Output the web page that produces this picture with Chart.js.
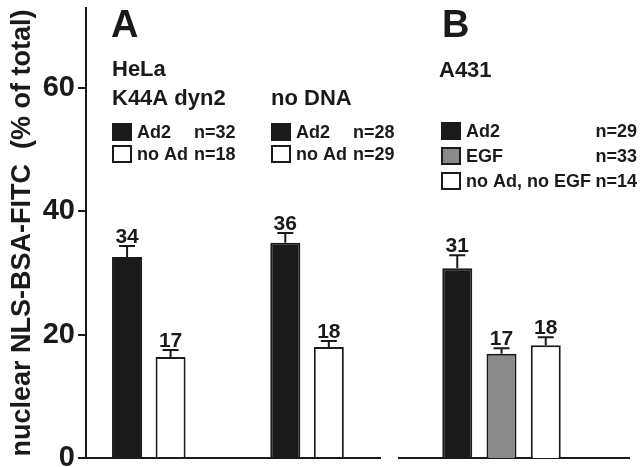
<!DOCTYPE html>
<html>
<head>
<meta charset="utf-8">
<script src="https://cdn.jsdelivr.net/npm/chart.js@4"></script>
<style>
  html, body { margin: 0; padding: 0; background: #fff; overflow: hidden; }
  #wrap { position: relative; width: 640px; height: 467px; }
  #chartA { position: absolute; left: 0; top: 0; }
  #chartB { position: absolute; left: 390px; top: 0; }
</style>
</head>
<body>
<div id="wrap">
  <canvas id="chartA" width="400" height="467"></canvas>
  <canvas id="chartB" width="250" height="467"></canvas>
</div>
<script>
// y axis
const yTicks = [0, 20, 40, 60];
const yMax = 73;
const yTitle = 'nuclear NLS-BSA-FITC  (% of total)';

// panel A (HeLa)
const cellA = 'HeLa';
const groupsA = ['K44A dyn2', 'no DNA'];
const ad2A = [32.6, 34.9];
const ad2ErrA = [1.8, 1.6];
const ad2LabelsA = ['34', '36'];
const noAdA = [16.4, 18.0];
const noAdErrA = [1.1, 1.0];
const noAdLabelsA = ['17', '18'];
const nAd2A = [32, 28];
const nNoAdA = [18, 29];

// panel B (A431)
const cellB = 'A431';
const ad2B = [30.8];
const ad2ErrB = [2.1];
const ad2LabelsB = ['31'];
const egfB = [16.9];
const egfErrB = [0.9];
const egfLabelsB = ['17'];
const noneB = [18.3];
const noneErrB = [1.3];
const noneLabelsB = ['18'];
const nB = [29, 33, 14];

const INK = '#1a1a1a';
const FONT = "'Liberation Sans', Arial, Helvetica, sans-serif";

function points(values) {
    return values.map((v, i) => ({ x: i, y: v }));
}

function bold(size) {
    return 'bold ' + size + 'px ' + FONT;
}

// error bars + numbers over the bars
const errorBars = {
    id: 'errorBars',
    afterDatasetsDraw(chart) {
        const ctx = chart.ctx;
        const y = chart.scales.y;
        ctx.save();
        ctx.strokeStyle = INK;
        ctx.fillStyle = INK;
        ctx.lineWidth = 2;
        ctx.font = bold(21);
        ctx.textAlign = 'center';
        ctx.textBaseline = 'alphabetic';
        chart.data.datasets.forEach((ds, di) => {
            chart.getDatasetMeta(di).data.forEach((bar, i) => {
                const top = y.getPixelForValue(ds.data[i].y + ds.errors[i]);
                ctx.beginPath();
                ctx.moveTo(bar.x, bar.y);
                ctx.lineTo(bar.x, top);
                ctx.moveTo(bar.x - 8, top);
                ctx.lineTo(bar.x + 8, top);
                ctx.stroke();
                ctx.fillText(ds.valueLabels[i], bar.x, top - 3);
            });
        });
        ctx.restore();
    }
};

function drawBox(ctx, ds, x, top, h) {
    ctx.fillStyle = ds.backgroundColor;
    ctx.fillRect(x, top, 20, h);
    ctx.strokeStyle = INK;
    ctx.lineWidth = 2;
    ctx.strokeRect(x + 1, top + 1, 18, h - 2);
}

// headers and hand-laid legends
const panelText = {
    id: 'panelText',
    afterDraw(chart, args, opts) {
        const ctx = chart.ctx;
        const dx = opts.offset;
        ctx.save();
        ctx.fillStyle = INK;
        ctx.textBaseline = 'alphabetic';
        ctx.textAlign = 'left';
        ctx.font = bold(38);
        ctx.fillText(opts.letter, opts.letterX - dx, 37);
        ctx.font = bold(22);
        opts.headers.forEach(h => ctx.fillText(h.text, h.x - dx, h.y));
        opts.rows.forEach(r => {
            const ds = chart.data.datasets[r.ds];
            drawBox(ctx, ds, r.x - dx, r.top, r.h);
            ctx.fillStyle = INK;
            ctx.font = bold(18);
            ctx.textAlign = 'left';
            ctx.fillText(ds.label, r.x + 25 - dx, r.top + 15);
            ctx.textAlign = r.nAlign || 'left';
            ctx.fillText('n=' + r.n, r.nX - dx, r.top + 15);
        });
        ctx.restore();
    }
};

function yScale(show) {
    return {
        min: 0,
        max: yMax,
        display: show,
        afterBuildTicks: s => { s.ticks = yTicks.map(v => ({ value: v })); },
        afterFit: s => { if (show) { s.width = 86; } s.paddingTop = 0; s.paddingBottom = 0; },
        border: { display: true, color: INK, width: 2 },
        grid: { drawOnChartArea: false, drawTicks: true, tickLength: 8, color: INK, lineWidth: 2 },
        ticks: { color: INK, font: { family: FONT, size: 29, weight: 'bold' }, padding: 3 },
        title: {
            display: show,
            text: yTitle,
            color: INK,
            font: { family: FONT, size: 27, weight: 'bold' },
            padding: { top: 6, bottom: 0 }
        }
    };
}

function xScale(min, max, groups) {
    return {
        type: 'linear',
        min: min,
        max: max,
        offset: false,
        afterBuildTicks: s => { s.ticks = groups.map((g, i) => ({ value: i })); },
        border: { display: true, color: INK, width: 2 },
        grid: { display: false, drawTicks: false, offset: false },
        ticks: { display: false }
    };
}

const common = {
    responsive: false,
    animation: false,
    events: [],
    plugins: { legend: { display: false }, tooltip: { enabled: false } }
};

new Chart(document.getElementById('chartA'), {
    type: 'bar',
    data: {
        datasets: [
            { label: 'Ad2', data: points(ad2A), errors: ad2ErrA, valueLabels: ad2LabelsA,
              backgroundColor: INK, borderColor: INK, borderWidth: 2 },
            { label: 'no Ad', data: points(noAdA), errors: noAdErrA, valueLabels: noAdLabelsA,
              backgroundColor: '#ffffff', borderColor: INK, borderWidth: 2 }
        ]
    },
    options: Object.assign({}, common, {
        categoryPercentage: 0.55,
        barPercentage: 0.69,
        layout: { padding: { left: 0, right: 20, top: 8, bottom: 9 } },
        scales: { x: xScale(-0.397, 1.461, groupsA), y: yScale(true) },
        plugins: Object.assign({}, common.plugins, {
            panelText: {
                offset: 0,
                letter: 'A',
                letterX: 111,
                headers: [
                    { text: cellA, x: 112, y: 76 },
                    { text: groupsA[0], x: 112, y: 105 },
                    { text: groupsA[1], x: 271, y: 105 }
                ],
                rows: [
                    { ds: 0, x: 112, top: 123, h: 18, n: nAd2A[0], nX: 194 },
                    { ds: 1, x: 112, top: 145, h: 18, n: nNoAdA[0], nX: 194 },
                    { ds: 0, x: 271, top: 123, h: 18, n: nAd2A[1], nX: 353 },
                    { ds: 1, x: 271, top: 145, h: 18, n: nNoAdA[1], nX: 353 }
                ]
            }
        })
    }),
    plugins: [errorBars, panelText]
});

new Chart(document.getElementById('chartB'), {
    type: 'bar',
    data: {
        datasets: [
            { label: 'Ad2', data: points(ad2B), errors: ad2ErrB, valueLabels: ad2LabelsB,
              backgroundColor: INK, borderColor: INK, borderWidth: 2 },
            { label: 'EGF', data: points(egfB), errors: egfErrB, valueLabels: egfLabelsB,
              backgroundColor: '#8a8a8a', borderColor: INK, borderWidth: 2 },
            { label: 'no Ad, no EGF', data: points(noneB), errors: noneErrB, valueLabels: noneLabelsB,
              backgroundColor: '#ffffff', borderColor: INK, borderWidth: 2 }
        ]
    },
    options: Object.assign({}, common, {
        categoryPercentage: 0.577,
        barPercentage: 0.678,
        layout: { padding: { left: 9, right: 11, top: 8, bottom: 9 } },
        scales: { x: xScale(-0.4457, 0.5543, [cellB]), y: yScale(false) },
        plugins: Object.assign({}, common.plugins, {
            panelText: {
                offset: 390,
                letter: 'B',
                letterX: 442,
                headers: [{ text: cellB, x: 439, y: 77 }],
                rows: [
                    { ds: 0, x: 441, top: 122, h: 18, n: nB[0], nX: 637, nAlign: 'right' },
                    { ds: 1, x: 441, top: 147, h: 18, n: nB[1], nX: 637, nAlign: 'right' },
                    { ds: 2, x: 441, top: 172, h: 18, n: nB[2], nX: 637, nAlign: 'right' }
                ]
            }
        })
    }),
    plugins: [errorBars, panelText]
});
</script>
</body>
</html>
